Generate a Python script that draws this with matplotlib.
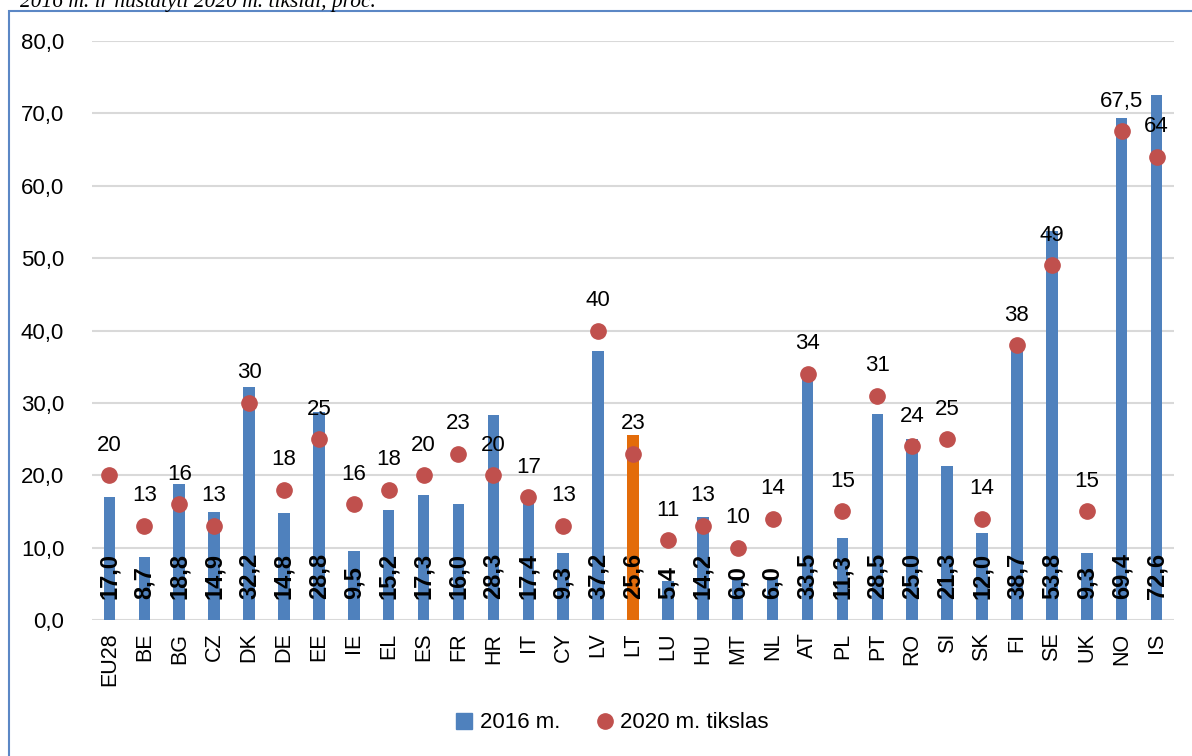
import matplotlib.pyplot as plt
from matplotlib.lines import Line2D
from matplotlib.patches import Rectangle

# Data
countries = ['EU28', 'BE', 'BG', 'CZ', 'DK', 'DE', 'EE', 'IE', 'EL', 'ES', 'FR',
             'HR', 'IT', 'CY', 'LV', 'LT', 'LU', 'HU', 'MT', 'NL', 'AT', 'PL',
             'PT', 'RO', 'SI', 'SK', 'FI', 'SE', 'UK', 'NO', 'IS']
share_2016 = [17.0, 8.7, 18.8, 14.9, 32.2, 14.8, 28.8, 9.5, 15.2, 17.3, 16.0,
              28.3, 17.4, 9.3, 37.2, 25.6, 5.4, 14.2, 6.0, 6.0, 33.5, 11.3,
              28.5, 25.0, 21.3, 12.0, 38.7, 53.8, 9.3, 69.4, 72.6]
target_2020 = [20, 13, 16, 13, 30, 18, 25, 16, 18, 20, 23,
               20, 17, 13, 40, 23, 11, 13, 10, 14, 34, 15,
               31, 24, 25, 14, 38, 49, 15, 67.5, 64]
highlight = 'LT'

BLUE = '#4F81BD'
ORANGE = '#E36C0A'
RED = '#C0504D'

plt.rcParams['font.family'] = ['Liberation Sans', 'DejaVu Sans']

fig = plt.figure(figsize=(11.92, 7.56), dpi=100)
W, H = 1192, 756
ax = fig.add_axes([92 / W, 1 - 620 / H, (1174 - 92) / W, (620 - 41) / H])

x = list(range(len(countries)))
colors = [ORANGE if c == highlight else BLUE for c in countries]
ax.bar(x, share_2016, width=0.33, color=colors, zorder=2)
ax.plot(x, target_2020, 'o', color=RED, markersize=11, zorder=3)

# bar value labels, bold, rotated inside the bar
for xi, v in zip(x, share_2016):
    ax.text(xi, 2.9, f'{v:.1f}'.replace('.', ','), rotation=90,
            ha='center', va='bottom', fontsize=17, fontweight='bold', zorder=4)

# target labels above markers
for xi, t in zip(x, target_2020):
    lab = f'{t:g}'.replace('.', ',')
    ax.annotate(lab, (xi, t), xytext=(0, 14), textcoords='offset points',
                ha='center', va='bottom', fontsize=16, zorder=4)

ax.set_xlim(-0.5, len(countries) - 0.5)
ax.set_ylim(0, 80)
ax.set_yticks(range(0, 81, 10))
ax.set_yticklabels([f'{v:.1f}'.replace('.', ',') for v in range(0, 81, 10)],
                   fontsize=16)
ax.set_xticks(x)
ax.set_xticklabels(countries, rotation=90, fontsize=15.5)
ax.tick_params(axis='both', length=0)
ax.tick_params(axis='y', pad=20)
ax.tick_params(axis='x', pad=9)
ax.grid(axis='y', color='#D9D9D9', linewidth=1.5, zorder=0)
ax.set_axisbelow(True)
for s in ax.spines.values():
    s.set_visible(False)

handles = [Line2D([], [], marker='s', linestyle='none', color=BLUE, markersize=11),
           Line2D([], [], marker='o', linestyle='none', color=RED, markersize=11)]
fig.legend(handles, ['2016 m.', '2020 m. tikslas'], loc='center',
           bbox_to_anchor=(611 / W, 1 - 723 / H), ncol=2, frameon=False,
           fontsize=16, handletextpad=0.2, columnspacing=1.5, handlelength=1)

# outer frame of the figure box
fig.patches.append(Rectangle((9 / W, -0.1), 1.2, 1 + 0.1 - 11 / H,
                             transform=fig.transFigure, fill=False,
                             edgecolor='#5B87C5', linewidth=1.5))

# caption above the frame, cut by the top edge as in the source
fig.text(376 / W, 1 - 7 / H, '2016 m. ir nustatyti 2020 m. tikslai, proc.',
         ha='right', va='baseline', fontsize=15.5, style='italic',
         family=['Liberation Serif', 'DejaVu Serif'])

fig.savefig('out.png', dpi=100)
